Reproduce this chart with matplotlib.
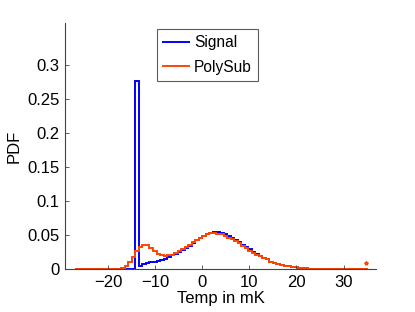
import numpy as np
import matplotlib
matplotlib.use("Agg")
import matplotlib.pyplot as plt

plt.rcParams['font.family'] = ['Liberation Sans', 'DejaVu Sans']

bin_start = -27.0
bin_width = 0.75

signal = [0.0] * 17 + [
    0.277,
    0.004, 0.007, 0.009, 0.011, 0.011, 0.012, 0.013, 0.015, 0.017, 0.020,
    0.022, 0.025, 0.028, 0.031, 0.034, 0.038, 0.042, 0.045, 0.049, 0.051,
    0.053, 0.054, 0.054, 0.053, 0.051, 0.048, 0.046, 0.043, 0.040, 0.036,
    0.033, 0.029, 0.025, 0.022, 0.019,
    0.016, 0.014, 0.011, 0.0095, 0.0078, 0.0062, 0.0048, 0.0039, 0.0030,
    0.0023, 0.0017, 0.0014, 0.0010, 0.0007, 0.0005, 0.0004, 0.0003, 0.0002,
    0.0001, 0.0001] + [0.0] * 10

polysub = [0.0] * 13 + [
    0.002, 0.005, 0.010, 0.017, 0.026, 0.033, 0.036, 0.035, 0.031, 0.026,
    0.022, 0.020, 0.019, 0.020, 0.021, 0.023, 0.026, 0.029, 0.032, 0.035,
    0.039, 0.043, 0.046, 0.049, 0.051, 0.053, 0.053, 0.052, 0.051, 0.049,
    0.046, 0.044, 0.041, 0.038, 0.034, 0.031, 0.027, 0.024, 0.021, 0.019,
    0.016, 0.014, 0.011, 0.0095, 0.0078, 0.0062, 0.0048, 0.0039, 0.0030,
    0.0023, 0.0017, 0.0014, 0.0010, 0.0007, 0.0005, 0.0004, 0.0003, 0.0002,
    0.0001, 0.0001] + [0.0] * 10

star_x = [34.8]
star_y = [0.009]

xticks = [-20, -10, 0, 10, 20, 30]
yticks = [0, 0.05, 0.1, 0.15, 0.2, 0.25, 0.3]
ytick_labels = ["0", "0.05", "0.1", "0.15", "0.2", "0.25", "0.3"]

edges_sig = bin_start + bin_width * np.arange(len(signal) + 1)
edges_pol = bin_start + bin_width * np.arange(len(polysub) + 1)

fig = plt.figure(figsize=(4.15, 3.12), dpi=100)
ax = fig.add_axes([0.1566, 0.1378, 0.906 - 0.1566, 0.926 - 0.1378])

blue = "#0000ff"
red = "#ff4500"
ax.stairs(signal, edges_sig, color=blue, linewidth=1.4, label="Signal")
ax.stairs(polysub, edges_pol, color=red, linewidth=1.4, label="PolySub")
ax.plot(star_x, star_y, marker='*', color=red, markersize=2.8, linestyle='none')

ax.set_xlim(-29.2, 36.9)
ax.set_ylim(0, 0.3618)
ax.set_xticks(xticks)
ax.set_yticks(yticks)
ax.set_yticklabels(ytick_labels)

for s in ['top', 'right']:
    ax.spines[s].set_visible(False)
for s in ['left', 'bottom']:
    ax.spines[s].set_color('#444444')
    ax.spines[s].set_linewidth(0.8)
ax.tick_params(direction='in', length=3, width=0.6, color='#444444', labelsize=12, pad=4)

ax.set_xlabel("Temp in mK", fontsize=12, labelpad=1)
ax.set_ylabel("PDF", fontsize=12, labelpad=4)

leg = ax.legend(loc='upper left', bbox_to_anchor=(0.295, 0.975), fontsize=11.2,
                frameon=True, fancybox=False, handlelength=1.7, handletextpad=0.3,
                borderpad=0.4, labelspacing=0.6, borderaxespad=0)
leg.get_frame().set_edgecolor('#333333')
leg.get_frame().set_linewidth(0.8)

fig.savefig("out.png", dpi=100)
